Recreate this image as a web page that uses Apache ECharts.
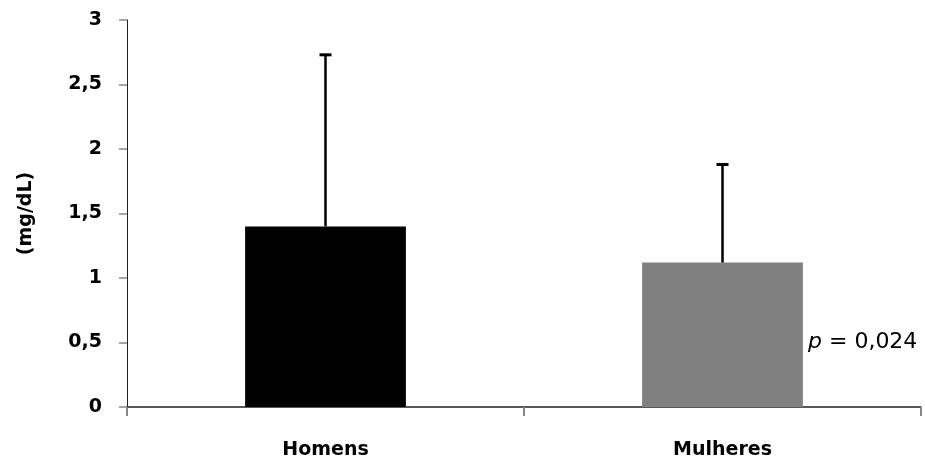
<!DOCTYPE html>
<html>
<head>
<meta charset="utf-8">
<script src="https://cdn.jsdelivr.net/npm/echarts@6/dist/echarts.min.js"></script>
<style>html,body{margin:0;padding:0;background:#fff}#c{width:925px;height:463px}</style>
</head>
<body>
<div id="c"></div>
<script>
const categories = ['Homens', 'Mulheres'];
const means = [1.40, 1.12];
const errorTops = [2.73, 1.88];
const barColors = ['#000000', '#808080'];
const yTicks = [0, 0.5, 1, 1.5, 2, 2.5, 3];
const annotation = 'p = 0,024';

const chart = echarts.init(document.getElementById('c'));
const FONT = '"DejaVu Sans", sans-serif';
chart.setOption({
  animation: false,
  grid: { left: 127, right: 4, top: 20, bottom: 56 },
  xAxis: {
    type: 'category',
    data: categories,
    axisLine: { lineStyle: { color: '#222', width: 1.5 } },
    axisTick: { show: true, interval: 0, length: 9, lineStyle: { color: '#888', width: 2 } },
    axisLabel: { margin: 34, color: '#000', fontSize: 19, fontWeight: 'bold', fontFamily: FONT }
  },
  yAxis: {
    type: 'value',
    min: 0, max: 3, interval: 0.5,
    name: '(mg/dL)',
    nameLocation: 'middle',
    nameGap: 91,
    nameRotate: 90,
    nameTextStyle: { color: '#000', fontSize: 19, fontWeight: 'bold', fontFamily: FONT },
    splitLine: { show: false },
    axisLine: { show: true, lineStyle: { color: '#222', width: 1 } },
    axisTick: { show: true, length: 8, lineStyle: { color: '#888', width: 1.5 } },
    axisLabel: {
      margin: 25, color: '#000', fontSize: 19, fontWeight: 'bold', fontFamily: FONT,
      formatter: v => yTicks.includes(v) ? String(v).replace('.', ',') : ''
    }
  },
  series: [
    {
      type: 'bar',
      barWidth: '40.5%',
      data: means.map((v, i) => ({ value: v, itemStyle: { color: barColors[i] } })),
      z: 2
    },
    {
      type: 'custom',
      z: 3,
      data: categories.map((c, i) => [i, means[i], errorTops[i]]),
      renderItem: function (params, api) {
        const base = api.coord([api.value(0), api.value(1)]);
        const top = api.coord([api.value(0), api.value(2)]);
        const x = base[0];
        return {
          type: 'group',
          children: [
            { type: 'line', shape: { x1: x, y1: base[1], x2: x, y2: top[1] }, style: { stroke: '#000', lineWidth: 2.5 } },
            { type: 'line', shape: { x1: x - 6, y1: top[1], x2: x + 6, y2: top[1] }, style: { stroke: '#000', lineWidth: 3 } }
          ]
        };
      }
    }
  ],
  graphic: [
    {
      type: 'text',
      left: 808, top: 331,
      style: {
        text: '{i|p} = 0,024',
        rich: {
          i: { fontStyle: 'italic', fontSize: 22, fontFamily: FONT, fill: '#000' }
        },
        fontSize: 22, fontFamily: FONT, fill: '#000'
      }
    }
  ]
});
</script>
</body>
</html>
